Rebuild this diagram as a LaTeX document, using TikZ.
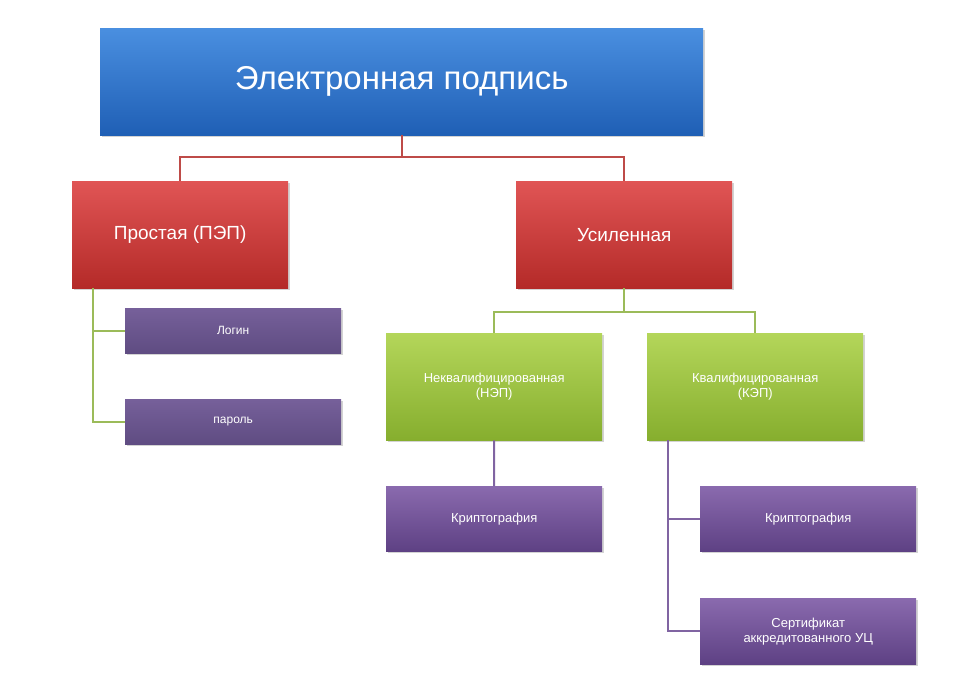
\documentclass[tikz,border=0pt]{standalone}
\usepackage{fontspec}
\setmainfont{Liberation Sans}
\usetikzlibrary{shadows}
\definecolor{bT}{HTML}{4A8FE0}\definecolor{bB}{HTML}{1F5FB5}
\definecolor{rT}{HTML}{E05555}\definecolor{rB}{HTML}{B42A28}
\definecolor{gT}{HTML}{B4D65A}\definecolor{gB}{HTML}{86AE2E}
\definecolor{pT}{HTML}{8A6AAE}\definecolor{pB}{HTML}{5E4184}
\definecolor{pdT}{HTML}{76609A}\definecolor{pdB}{HTML}{5F4C82}
\definecolor{lR}{HTML}{BE4B48}\definecolor{lG}{HTML}{9BBB59}\definecolor{lP}{HTML}{8064A2}
\tikzset{
 box/.style={draw=none,text=white,align=center,anchor=north west,inner sep=0pt,
   drop shadow={shadow xshift=1.5pt,shadow yshift=-2pt,opacity=0.35}},
 blu/.style={box,top color=bT,bottom color=bB,font=\fontsize{33}{38}\selectfont},
 red/.style={box,top color=rT,bottom color=rB,font=\fontsize{19}{22}\selectfont},
 grn/.style={box,top color=gT,bottom color=gB,font=\fontsize{13}{15}\selectfont},
 pur/.style={box,top color=pT,bottom color=pB,font=\fontsize{13}{15}\selectfont},
 pud/.style={box,top color=pdT,bottom color=pdB,font=\fontsize{12}{14}\selectfont},
 ln/.style={line width=2pt}
}
\begin{document}
\begin{tikzpicture}[x=1pt,y=-1pt]
\useasboundingbox (0,0) rectangle (960,692);
\node[blu,minimum width=603pt,minimum height=107pt] (t) at (100,28) {Электронная подпись};
\node[red,minimum width=216pt,minimum height=107pt] (p) at (72,181) {Простая (ПЭП)};
\node[red,minimum width=216pt,minimum height=107pt] (u) at (516,181) {Усиленная};
\node[pud,minimum width=216pt,minimum height=45pt] (l) at (125,308) {Логин};
\node[pud,minimum width=216pt,minimum height=45pt] (pa) at (125,399) {пароль};
\node[grn,minimum width=216pt,minimum height=107pt] (n) at (386,333) {Неквалифицированная\\(НЭП)};
\node[grn,minimum width=216pt,minimum height=107pt] (k) at (647,333) {Квалифицированная\\(КЭП)};
\node[pur,minimum width=216pt,minimum height=65pt] (c1) at (386,486) {Криптография};
\node[pur,minimum width=216pt,minimum height=65pt] (c2) at (700,486) {Криптография};
\node[pur,minimum width=216pt,minimum height=66pt] (s) at (700,598) {Сертификат\\аккредитованного УЦ};
\begin{scope}[on background layer/.style={}]
\draw[ln,lR] (t.south) -- ++(0,22) -| (p.north);
\draw[ln,lR] (t.south) -- ++(0,22) -| (u.north);
\draw[ln,lG] ([xshift=21pt]p.south west) |- (l.west);
\draw[ln,lG] ([xshift=21pt]p.south west) |- (pa.west);
\draw[ln,lG] (u.south) -- ++(0,24) -| (n.north);
\draw[ln,lG] (u.south) -- ++(0,24) -| (k.north);
\draw[ln,lP] ([xshift=108pt]n.south west) -- (c1.north);
\draw[ln,lP] ([xshift=21pt]k.south west) |- (c2.west);
\draw[ln,lP] ([xshift=21pt]k.south west) |- (s.west);
\end{scope}
\end{tikzpicture}
\end{document}
